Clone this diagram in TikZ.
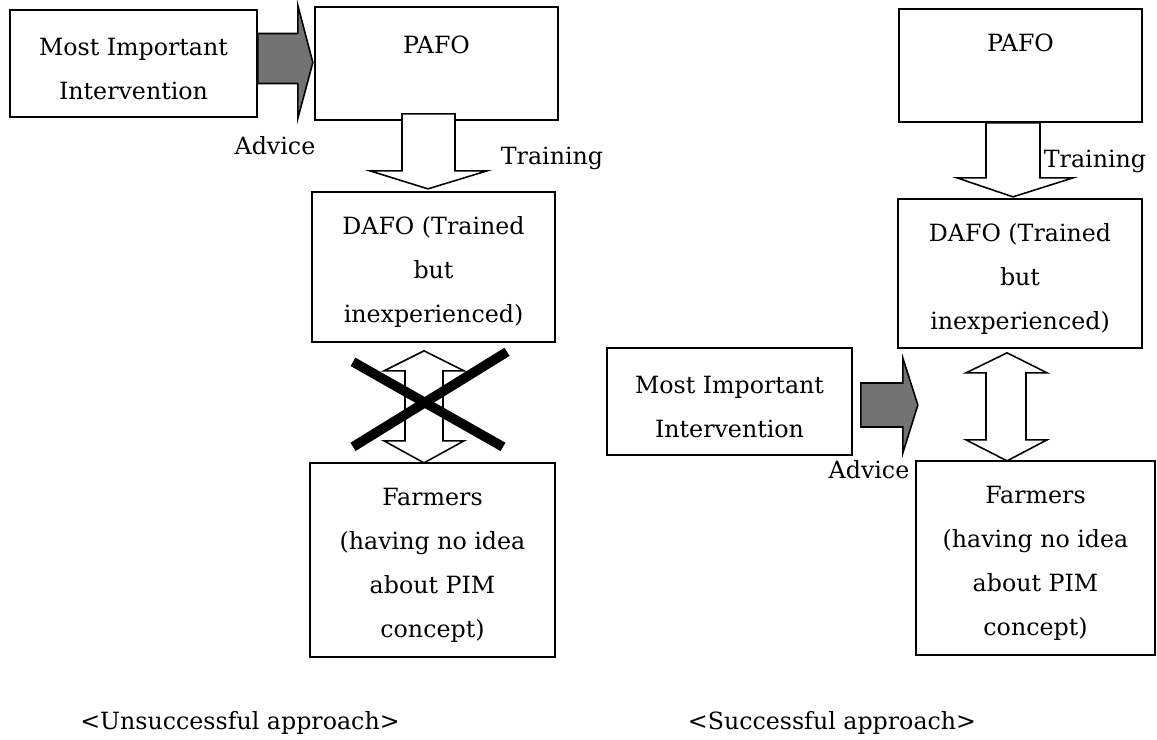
\documentclass[tikz,border=0pt]{standalone}
\usepackage{fontspec}
\setmainfont{DejaVu Serif}
\usetikzlibrary{calc}
\newcommand\topstrut{\rule{0pt}{16pt}}
\tikzset{
  box/.style={draw, line width=1pt, align=center, inner sep=0pt,
    font=\fontsize{13.5}{25}\selectfont},
  lbl/.style={inner sep=0pt, font=\fontsize{13.5}{25}\selectfont},
  caplbl/.style={inner sep=0pt, font=\fontsize{13.5}{16}\selectfont},
  blockarrow/.style={draw, line width=0.9pt, fill=white, line join=miter},
  advarrow/.style={draw, line width=0.9pt, fill=black!55, line join=miter},
  crossline/.style={line width=5.5pt}
}
\begin{document}
\begin{tikzpicture}[x=0.02cm, y=-0.02cm]
\fill[white] (0,0) rectangle (1157,740);
\useasboundingbox (0,0) rectangle (1157,740);

% ---------- left: unsuccessful approach ----------
\node[box, minimum width=4.94cm, minimum height=2.14cm] (mii1) at (133.5,63.5) {\topstrut Most Important\\Intervention};
\node[box, minimum width=4.86cm, minimum height=2.26cm] (pafo1) at (436.5,63.5) {\topstrut PAFO\\[-5pt]\strut};
\node[box, minimum width=4.86cm, minimum height=3.0cm] (dafo1) at (433.5,267) {\topstrut DAFO (Trained\\but\\inexperienced)};
\node[box, minimum width=4.9cm, minimum height=3.88cm] (farm1) at (432.5,560) {\topstrut Farmers\\(having no idea\\about PIM\\concept)};

\draw[advarrow] ($(mii1.east)+(0,-30)$) -- ++(40,0) -- ++(0,-28) -- ++(15,57)
  -- ++(-15,56) -- ++(0,-35) -- ++(-40,0) -- cycle;
\node[lbl] (adv1) at (275,146) {Advice};

\draw[blockarrow] ($(pafo1.south)+(-34.5,-7)$) -- ++(53,0) -- ++(0,57) -- ++(32,0)
  -- ++(-59,18) -- ++(-58,-18) -- ++(32,0) -- cycle;
\node[lbl] (train1) at (552,158) {Training};

\draw[blockarrow] ($(dafo1.south)+(-9.5,8)$) -- ++(40,20) -- ++(-21,0) -- ++(0,70)
  -- ++(21,0) -- ++(-40,22) -- ++(-40,-22) -- ++(21,0) -- ++(0,-70) -- ++(-21,0) -- cycle;
\draw[crossline] ($(dafo1.south)+(-80.5,19)$) -- ($(dafo1.south)+(69.5,104)$);
\draw[crossline] ($(dafo1.south)+(73.5,9)$) -- ($(dafo1.south)+(-80.5,104)$);

\node[caplbl] (cap1) at (240,723) {<Unsuccessful approach>};

% ---------- right: successful approach ----------
\node[box, minimum width=4.86cm, minimum height=2.26cm] (pafo2) at (1020.5,65.5) {\topstrut PAFO\\\strut};
\node[box, minimum width=4.88cm, minimum height=2.98cm] (dafo2) at (1020,273.5) {\topstrut DAFO (Trained\\but\\inexperienced)};
\node[box, minimum width=4.9cm, minimum height=2.14cm] (mii2) at (729.5,401.5) {\topstrut Most Important\\Intervention};
\node[box, minimum width=4.78cm, minimum height=3.88cm] (farm2) at (1035.5,558) {\topstrut Farmers\\(having no idea\\about PIM\\concept)};

\draw[blockarrow] ($(pafo2.south)+(-34.5,0)$) -- ++(54,0) -- ++(0,55) -- ++(33,0)
  -- ++(-60,19) -- ++(-56,-19) -- ++(29,0) -- cycle;
\node[lbl] (train2) at (1095,161) {Training};

\draw[advarrow] ($(mii2.east)+(8,-18.5)$) -- ++(42,0) -- ++(0,-25) -- ++(15,47)
  -- ++(-15,48) -- ++(0,-26) -- ++(-42,0) -- cycle;
\node[lbl] (adv2) at (869,470) {Advice};

\draw[blockarrow] ($(dafo2.south)+(-13,4)$) -- ++(40,20) -- ++(-21,0) -- ++(0,67)
  -- ++(21,0) -- ++(-40,21) -- ++(-41,-21) -- ++(20,0) -- ++(0,-67) -- ++(-20,0) -- cycle;

\node[caplbl] (cap2) at (832,723) {<Successful approach>};
\end{tikzpicture}
\end{document}
